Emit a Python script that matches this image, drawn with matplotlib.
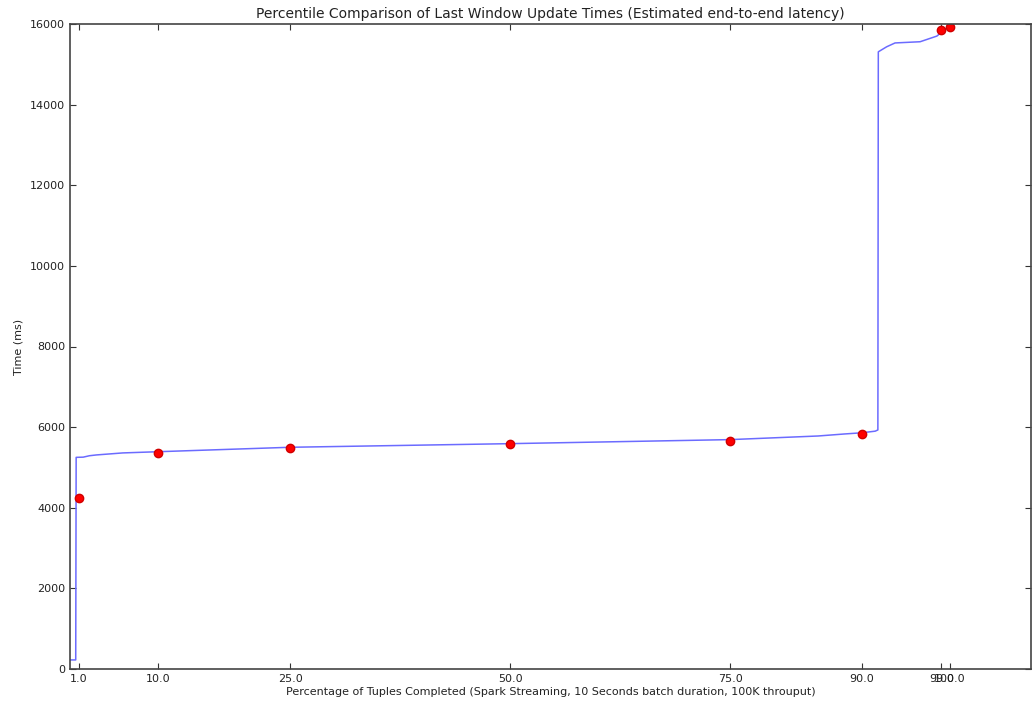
import matplotlib
matplotlib.use("Agg")
import matplotlib.pyplot as plt

# sorted latency curve (percent of tuples completed vs time in ms)
curve_pct = [0, 0.65, 0.7, 1.5, 2.2, 3.0, 6.0, 10.0, 25.0, 50.0, 75.0, 85.0,
             88.0, 90.0, 91.5, 91.8, 91.85, 92.8, 93.75, 96.6, 98.5, 99.5]
curve_ms = [225, 225, 5250, 5255, 5290, 5310, 5360, 5390, 5500, 5590, 5690, 5780,
            5830, 5860, 5900, 5930, 15310, 15435, 15530, 15560, 15700, 15880]

# percentile markers
pct_marks = [1.0, 10.0, 25.0, 50.0, 75.0, 90.0, 99.0, 100.0]
pct_values = [4250, 5370, 5490, 5585, 5665, 5835, 15840, 15930]

y_ticks = [0, 2000, 4000, 6000, 8000, 10000, 12000, 14000, 16000]

fig = plt.figure(figsize=(10.33, 7.08), dpi=100)
ax = fig.add_axes([70 / 1033, 39 / 708, 961 / 1033, 645 / 708])

ax.plot(curve_pct, curve_ms, color="#6b6bff", linewidth=1.1)
ax.plot(pct_marks, pct_values, "o", color="red", markersize=6, markeredgecolor="#d00000")

ax.set_xlim(0, 109.2)
ax.set_ylim(0, 16000)
ax.set_xticks(pct_marks)
ax.set_xticklabels([f"{p:.1f}" for p in pct_marks])
ax.set_yticks(y_ticks)
ax.tick_params(direction="in", top=True, right=True, labelsize=8, length=4,
               colors="#333333", labelcolor="#222222")
for s in ax.spines.values():
    s.set_color("#444444")
    s.set_linewidth(1.2)

ax.set_title("Percentile Comparison of Last Window Update Times (Estimated end-to-end latency)",
             fontsize=10, color="#222222", pad=4)
ax.set_xlabel("Percentage of Tuples Completed (Spark Streaming, 10 Seconds batch duration, 100K throuput)",
              fontsize=8, color="#222222", labelpad=2)
ax.set_ylabel("Time (ms)", fontsize=8, color="#222222", labelpad=5)

fig.savefig("out.png", dpi=100)
